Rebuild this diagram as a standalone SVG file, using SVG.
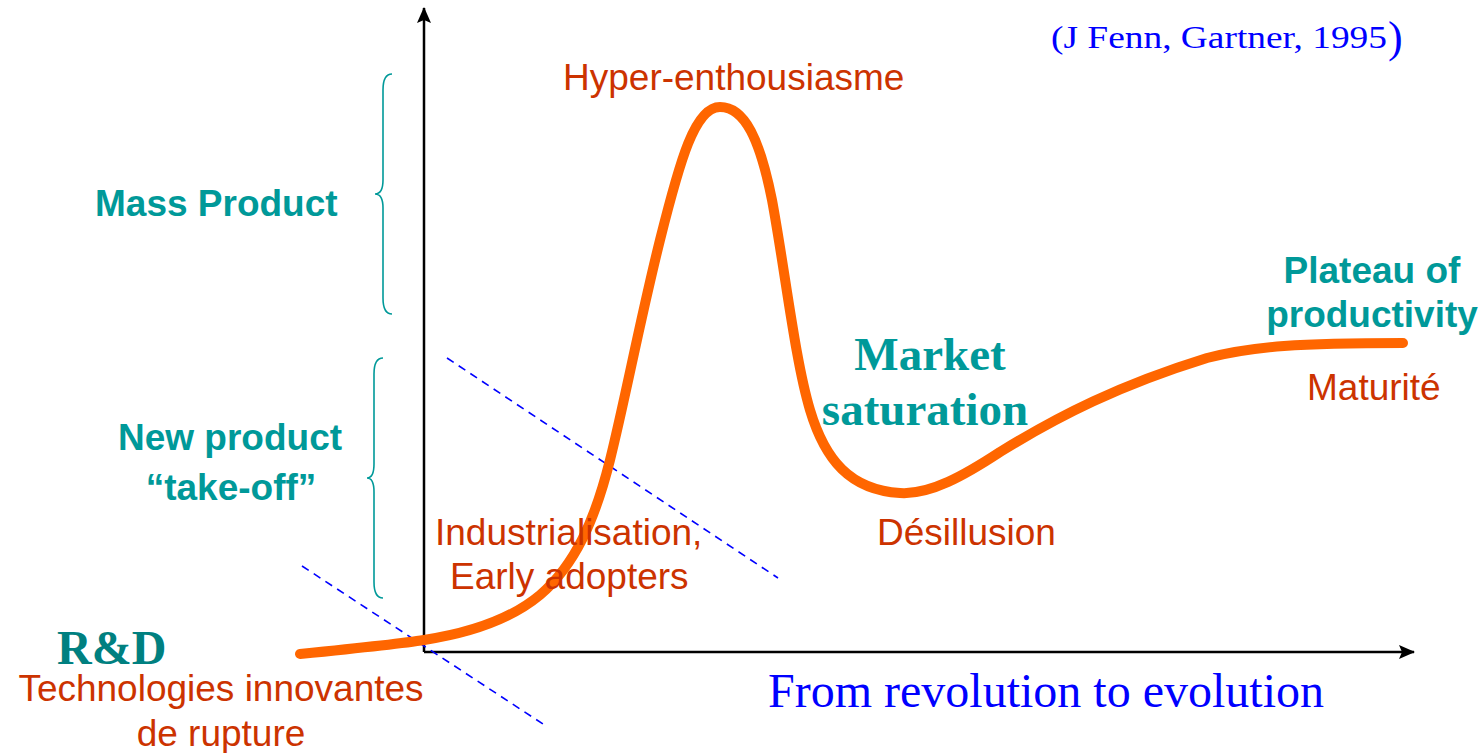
<svg xmlns="http://www.w3.org/2000/svg" width="1481" height="753" viewBox="0 0 1481 753">
  <defs>
    <marker id="arrow" viewBox="0 0 16 14" refX="15" refY="7" markerWidth="16" markerHeight="14" markerUnits="userSpaceOnUse" orient="auto">
      <path d="M0,0 L16,7 L0,14 L3,7 Z" fill="#000"/>
    </marker>
  </defs>
  <style>
    .axis { stroke:#000; stroke-width:2.5; fill:none; }
    .curve { stroke:#FF6600; stroke-width:10; fill:none; stroke-linecap:round; stroke-linejoin:round; }
    .guide { stroke:#0000FF; stroke-width:1.6; stroke-dasharray:8 6; fill:none; }
    .brace { stroke:#009999; stroke-width:1.6; fill:none; }
    .phase { font-family:"Liberation Sans", Arial, sans-serif; font-size:37px; fill:#CC3300; }
    .stage { font-family:"Liberation Sans", Arial, sans-serif; font-size:37px; font-weight:bold; fill:#009999; }
    .serifbold { font-family:"Liberation Serif", "Times New Roman", serif; font-weight:bold; fill:#009999; }
    .note { font-family:"Liberation Serif", "Times New Roman", serif; fill:#0000FF; }
  </style>

  <!-- axes -->
  <g id="axes">
    <line class="axis" x1="424" y1="652" x2="424" y2="8" marker-end="url(#arrow)"/>
    <line class="axis" x1="424" y1="652" x2="1414" y2="652" marker-end="url(#arrow)"/>
  </g>

  <!-- dashed phase boundaries -->
  <g id="connectors">
    <line class="guide" x1="302" y1="566" x2="543" y2="724"/>
    <line class="guide" x1="447" y1="358" x2="778" y2="578"/>
  </g>

  <!-- hype cycle curve -->
  <g id="hype-curve">
    <path class="curve" d="M300,654 C360,648 400,644 424,640 C470,633 510,620 540,595 C575,565 595,520 610,460 C625,400 640,320 660,240 C680,160 695,107 720,107 C745,107 760,140 772,200 C785,270 795,360 810,410 C825,460 850,490 900,493 C930,495 965,475 1000,452 C1060,415 1120,385 1207,358 C1254,346 1300,343 1403,343"/>
  </g>

  <!-- braces on the left -->
  <g id="brace-mass">
    <path class="brace" d="M392,74 Q383,74 383,90 L383,180 Q383,194 375,194 Q383,194 383,208 L383,298 Q383,314 392,314"/>
  </g>
  <g id="brace-new">
    <path class="brace" d="M383,358 Q374,358 374,374 L374,464 Q374,478 367,478 Q374,478 374,492 L374,582 Q374,598 383,598"/>
  </g>

  <!-- labels -->
  <g id="label-mass-product">
    <text class="stage" x="95" y="216">Mass Product</text>
  </g>
  <g id="label-new-product">
    <text class="stage" x="230" y="450" text-anchor="middle">New product</text>
    <text class="stage" x="231" y="500" text-anchor="middle">“take-off”</text>
  </g>
  <g id="label-rd">
    <text class="serifbold" x="57" y="664" font-size="48" style="fill:#008080">R&amp;D</text>
    <text class="phase" x="221" y="701" text-anchor="middle">Technologies innovantes</text>
    <text class="phase" x="221" y="746" text-anchor="middle">de rupture</text>
  </g>
  <g id="label-industrialisation">
    <text class="phase" x="435" y="545">Industrialisation,</text>
    <text class="phase" x="450" y="589">Early adopters</text>
  </g>
  <g id="label-hype">
    <text class="phase" x="563" y="90">Hyper-enthousiasme</text>
  </g>
  <g id="label-market">
    <text class="serifbold" x="930" y="370" font-size="47" text-anchor="middle">Market</text>
    <text class="serifbold" x="925" y="425" font-size="47" text-anchor="middle">saturation</text>
  </g>
  <g id="label-desillusion">
    <text class="phase" x="877" y="545">Désillusion</text>
  </g>
  <g id="label-plateau">
    <text class="stage" x="1372" y="283" text-anchor="middle" font-size="35">Plateau of</text>
    <text class="stage" x="1372" y="327" text-anchor="middle" font-size="35">productivity</text>
    <text class="phase" x="1307" y="400">Maturité</text>
  </g>
  <g id="label-axis">
    <text class="note" x="768" y="707" font-size="48">From revolution to evolution</text>
  </g>
  <g id="citation">
    <text class="note" x="1051" y="48" font-size="31" textLength="336" lengthAdjust="spacingAndGlyphs">(J Fenn, Gartner, 1995</text>
    <text class="note" x="1388" y="52" font-size="44">)</text>
  </g>
</svg>
